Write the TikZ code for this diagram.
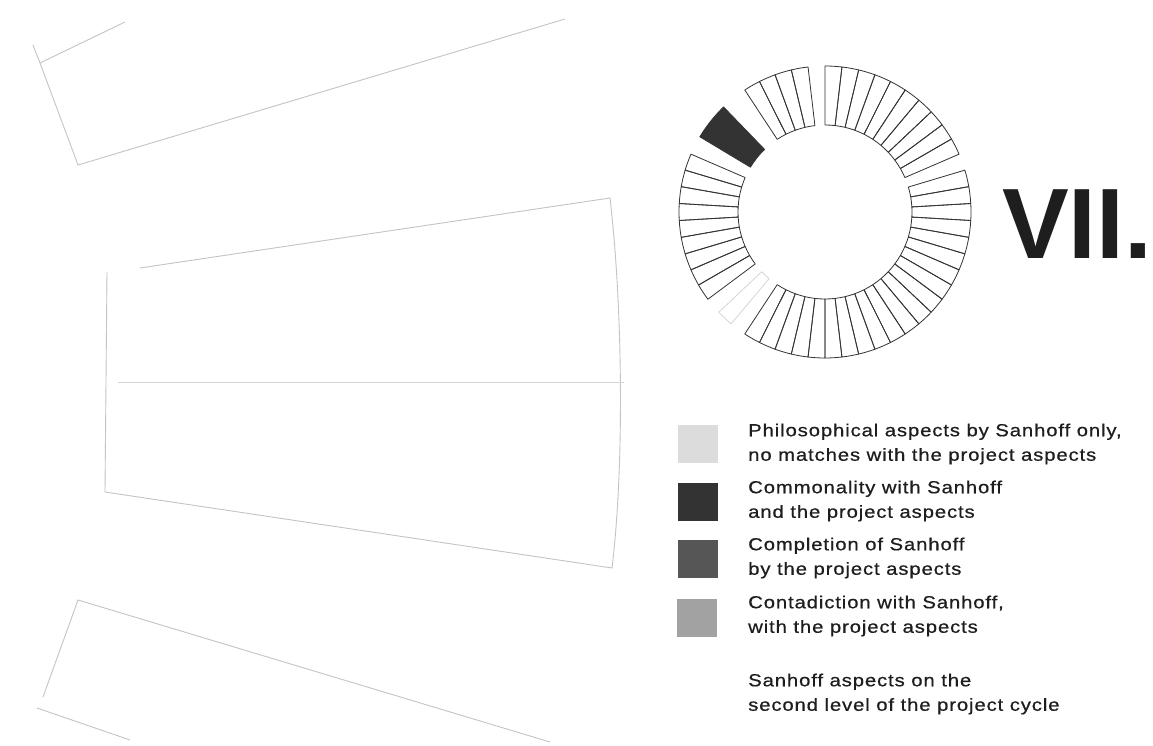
\documentclass[tikz,border=0pt]{standalone}
\usepackage{fontspec}
\setmainfont{Liberation Sans}
\newfontfamily\legfont[FakeStretch=1.16,LetterSpace=5,FakeBold=0.6]{Liberation Sans}
\newfontfamily\bigfont{Liberation Sans}
\definecolor{inkline}{HTML}{333333}
\definecolor{faintline}{HTML}{C4C4C4}
\definecolor{philo}{HTML}{DCDCDC}
\definecolor{common}{HTML}{333333}
\definecolor{complet}{HTML}{565656}
\definecolor{contra}{HTML}{A2A2A2}
\definecolor{txt}{HTML}{1E1E1E}
\newcommand\ringcell[3][]{%
  \draw[cellline,#1] (#2:87) -- (#2:146) arc[start angle=#2, end angle=#3, radius=146]
     -- (#3:87) arc[start angle=#3, end angle=#2, radius=87] -- cycle;}
\tikzset{
  cellline/.style={draw=inkline, line width=0.8pt, line join=round},
  faint/.style={draw=faintline, line width=0.9pt},
  swatch/.style={draw=none, minimum width=40pt, minimum height=38pt, inner sep=0pt},
  legtext/.style={anchor=west, align=left, inner sep=0pt, text=txt,
     font=\legfont\fontsize{17.5}{24.5}\selectfont},
}
\begin{document}
\begin{tikzpicture}[x=1pt,y=-1pt]
\useasboundingbox[fill=white] (0,0) rectangle (1153,746);

% faint background wireframes
\draw[faint] (33,45) -- (40,63) -- (78,165) -- (565,19);
\draw[faint] (40,63) -- (125,22);
\draw[faint] (140,268) -- (610,198) .. controls (622,300) and (625,460) .. (612,568) -- (105,492) -- (107,272);
\draw[faint, draw=faintline!70] (118,382) -- (624,382);
\draw[faint] (550,742) -- (78,600) -- (43,697);
\draw[faint] (37,708) -- (130,740);

% ring
\begin{scope}[shift={(825,212)}, yscale=-1]
  % group A (top-left)
  \foreach \i in {0,...,3} {
    \pgfmathsetmacro\aa{96.667+\i*6.667}
    \pgfmathsetmacro\bb{\aa+6.667}
    \ringcell{\aa}{\bb}
  }
  % group B (top-right)
  \foreach \i in {0,...,9} {
    \pgfmathsetmacro\aa{90-\i*6.667}
    \pgfmathsetmacro\bb{\aa-6.667}
    \ringcell{\aa}{\bb}
  }
  % group C (right and bottom)
  \foreach \i in {0,...,20} {
    \pgfmathsetmacro\aa{16.667-\i*6.667}
    \pgfmathsetmacro\bb{\aa-6.667}
    \ringcell{\aa}{\bb}
  }
  % faint cell
  \ringcell[draw=faintline!70]{-130}{-136.667}
  % group D (left)
  \foreach \i in {0,...,8} {
    \pgfmathsetmacro\aa{156.667+\i*6.667}
    \pgfmathsetmacro\bb{\aa+6.667}
    \ringcell{\aa}{\bb}
  }
  % dark cell
  \ringcell[draw=common, fill=common]{134}{149}
\end{scope}

\node[anchor=base west, inner sep=0pt, text=txt, font=\bigfont\bfseries\fontsize{100}{104}\selectfont] (title) at (1002,258) {VII.};

% legend
\node[swatch, fill=philo]   (s1) at (697.5,444) {};
\node[swatch, fill=common]  (s2) at (697.5,501.5) {};
\node[swatch, fill=complet] (s3) at (697.5,558.5) {};
\node[swatch, fill=contra]  (s4) at (697,618) {};

\node[legtext] (t1) at (748,444) {Philosophical aspects by Sanhoff only,\\no matches with the project aspects};
\node[legtext] (t2) at (748,501) {Commonality with Sanhoff\\and the project aspects};
\node[legtext] (t3) at (748,558) {Completion of Sanhoff\\by the project aspects};
\node[legtext] (t4) at (748,616) {Contadiction with Sanhoff,\\with the project aspects};
\node[legtext] (t5) at (748,694) {Sanhoff aspects on the\\second level of the project cycle};
\end{tikzpicture}
\end{document}
